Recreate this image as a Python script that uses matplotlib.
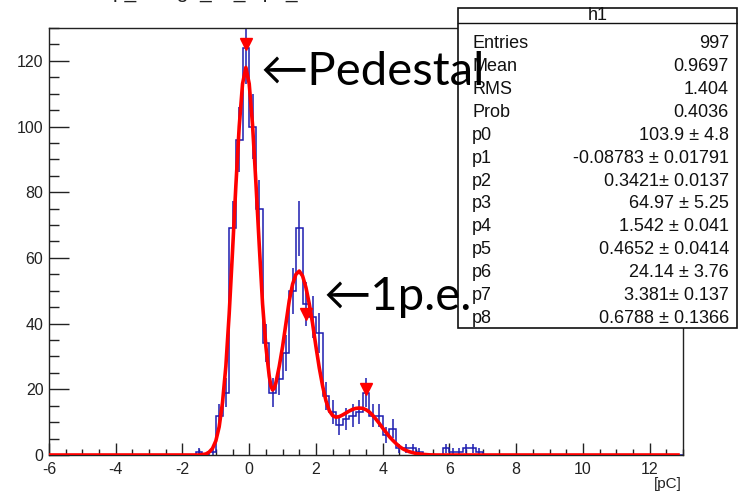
import numpy as np
import matplotlib
matplotlib.use("Agg")
import matplotlib.pyplot as plt
from matplotlib.patches import Rectangle
from matplotlib.ticker import MultipleLocator

# ---- histogram h1 (bin width 0.2 pC, range -6..13) ----
n_bins = 95
x_lo, x_hi = -6.0, 13.0
bin_centers = [-1.5, -1.1, -0.9, -0.7, -0.5, -0.3, -0.1, 0.1, 0.3, 0.5,
               0.7, 0.9, 1.1, 1.3, 1.5, 1.7, 1.9, 2.1, 2.3, 2.5,
               2.7, 2.9, 3.1, 3.3, 3.5, 3.7, 3.9, 4.1, 4.3, 4.5,
               4.7, 4.9, 5.1, 5.9, 6.1, 6.3, 6.5, 6.7, 6.9]
bin_counts = [1, 1, 12, 19, 69, 96, 124, 100, 75, 34,
              19, 23, 31, 50, 69, 46, 42, 37, 18, 13,
              9, 11, 12, 13, 19, 12, 12, 6, 8, 2,
              2, 2, 1, 2, 1, 1, 2, 2, 1]

# ---- fit curve ----
fit_x = [-6.0, -1.5, -1.3, -1.2, -1.1, -1.0, -0.9, -0.8, -0.7, -0.6,
         -0.5, -0.4, -0.3, -0.2, -0.1, 0.0, 0.1, 0.2, 0.3, 0.4,
         0.5, 0.6, 0.65, 0.7, 0.75, 0.8, 0.9, 1.0, 1.1, 1.2,
         1.3, 1.4, 1.5, 1.6, 1.7, 1.8, 1.9, 2.0, 2.1, 2.2,
         2.3, 2.4, 2.5, 2.6, 2.7, 2.8, 2.9, 3.0, 3.1, 3.2,
         3.3, 3.4, 3.5, 3.6, 3.7, 3.8, 3.9, 4.0, 4.1, 4.2,
         4.3, 4.4, 4.5, 4.6, 4.7, 4.8, 5.0, 5.2, 5.4, 5.6, 12.85]
fit_y = [0, 0, 0.3, 0.9, 2.0, 4.3, 8.6, 16, 27, 43,
         62, 82, 100, 113, 118, 113, 100.5, 83, 64, 46,
         33, 24, 21, 19.8, 20.3, 22, 27, 33, 40, 47,
         52, 55, 56, 54.5, 51, 46, 40, 33, 26.5, 21,
         16.5, 13.5, 12, 11.5, 11.7, 12.2, 12.8, 13.4, 13.9, 14.2,
         14.3, 14.2, 13.8, 13.1, 12.1, 10.9, 9.6, 8.2, 6.9, 5.6,
         4.5, 3.5, 2.6, 1.9, 1.4, 1.0, 0.45, 0.2, 0.05, 0, 0]

# ---- peaks found ----
peak_x = [-0.1, 1.69, 3.49]
peak_y = [125, 43, 20]

# ---- stats box ----
stat_names = ["Entries", "Mean", "RMS", "Prob", "p0", "p1", "p2", "p3",
              "p4", "p5", "p6", "p7", "p8"]
stat_values = ["997", "0.9697", "1.404", "0.4036", "103.9 \u00b1 4.8",
               "-0.08783 \u00b1 0.01791", "0.3421\u00b1 0.0137",
               "64.97 \u00b1 5.25", "1.542 \u00b1 0.041",
               "0.4652 \u00b1 0.0414", "24.14 \u00b1 3.76",
               "3.381\u00b1 0.137", "0.6788 \u00b1 0.1366"]

W, H = 738, 493
BLUE = "#1c1cb0"
RED = "#ff0000"
plt.rcParams["font.family"] = ["Liberation Sans", "DejaVu Sans"]

fig = plt.figure(figsize=(W / 100, H / 100), dpi=100)
ax = fig.add_axes([49 / W, 1 - 455 / H, 634 / W, 427 / H])

edges = np.linspace(x_lo, x_hi, n_bins + 1)
ax.hist(bin_centers, bins=edges, weights=bin_counts, histtype="step",
        color=BLUE, lw=1.1, zorder=2)
ax.errorbar(bin_centers, bin_counts, yerr=np.sqrt(bin_counts), fmt="none",
            ecolor=BLUE, elinewidth=1.1, capsize=0, zorder=2)
ax.plot(fit_x, fit_y, color=RED, lw=2.6, zorder=3, solid_joinstyle="round")
ax.plot(peak_x, peak_y, "v", color=RED, ms=9, zorder=4)

ax.set_xlim(x_lo, x_hi)
ax.set_ylim(0, 130)
ax.xaxis.set_major_locator(MultipleLocator(2))
ax.xaxis.set_minor_locator(MultipleLocator(0.5))
ax.yaxis.set_major_locator(MultipleLocator(20))
ax.yaxis.set_minor_locator(MultipleLocator(5))
ax.tick_params(axis="both", which="both", direction="in", top=False,
               right=False, colors="#222222", labelsize=11.5, width=1)
ax.tick_params(axis="y", which="major", length=14.4, pad=4)
ax.tick_params(axis="y", which="minor", length=7.2)
ax.tick_params(axis="x", which="major", length=8.6, pad=5)
ax.tick_params(axis="x", which="minor", length=4.3)
for s in ax.spines.values():
    s.set_color("#222222")
    s.set_linewidth(1)
ax.set_xticks(np.arange(-6, 13, 2))
ax.set_xticklabels([str(v) for v in range(-6, 13, 2)])
fig.text(682 / W, 1 - 484 / H, "[pC]", ha="right", va="center",
         fontsize=11, color="#222222")

# clipped title at the very top
fig.text(113 / W, 1 + 2 / H, "p_charge_ch_1 pe_fit", ha="left",
         va="baseline", fontsize=15, color="#222222")

# stats box
box = Rectangle((458 / W, 1 - 328 / H), 279 / W, 320 / H,
                transform=fig.transFigure, facecolor="white",
                edgecolor="#111111", lw=1.2, zorder=5)
fig.patches.append(box)
fig.add_artist(plt.Line2D([458 / W, 737 / W], [1 - 23 / H, 1 - 23 / H],
                          transform=fig.transFigure, color="#111111",
                          lw=1.0, zorder=6))
fig.text(598 / W, 1 - 15 / H, "h1", ha="center", va="center",
         fontsize=13, color="#111111", zorder=7)
for i, (nm, val) in enumerate(zip(stat_names, stat_values)):
    yy = 1 - (44 + i * 22.85) / H
    fig.text(472 / W, yy, nm, ha="left", va="center", fontsize=13,
             color="#111111", zorder=7)
    fig.text(729 / W, yy, val, ha="right", va="center", fontsize=13,
             color="#111111", zorder=7)

# annotations
ann_font = ["Lato", "DejaVu Sans"]
fig.text(260 / W, 1 - 72 / H, "\u2190Pedestal", ha="left", va="center",
         fontsize=34, family=ann_font, color="black", zorder=10)
fig.text(323 / W, 1 - 297 / H, "\u21901p.e.", ha="left", va="center",
         fontsize=34, family=ann_font, color="black", zorder=10)

fig.savefig("out.png", dpi=100)
